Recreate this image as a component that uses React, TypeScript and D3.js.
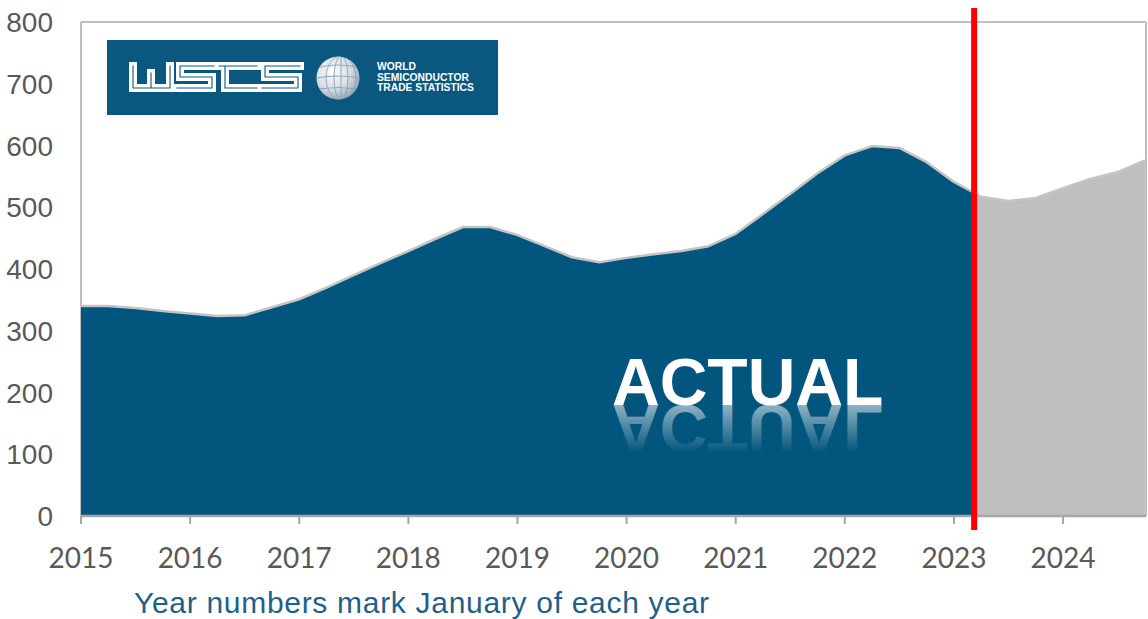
import * as d3 from "d3";

// quarterly WSTS billings (US$ bn, 12-month moving sum)
const quarters = [
  2015, 2015.25, 2015.5, 2015.75, 2016, 2016.25, 2016.5, 2016.75,
  2017, 2017.25, 2017.5, 2017.75, 2018, 2018.25, 2018.5, 2018.75,
  2019, 2019.25, 2019.5, 2019.75, 2020, 2020.25, 2020.5, 2020.75,
  2021, 2021.25, 2021.5, 2021.75, 2022, 2022.25, 2022.5, 2022.75,
  2023, 2023.25, 2023.5, 2023.75, 2024, 2024.25, 2024.5, 2024.75,
];
const billings = [
  340, 340, 337, 332, 328, 324, 325, 338,
  351, 370, 390, 410, 429, 449, 468, 468,
  455, 437, 419, 411, 418, 424, 429, 437,
  457, 489, 522, 555, 584, 599, 596, 573,
  541, 517, 510, 515, 531, 546, 557, 576,
];
const yearTicks = [2015, 2016, 2017, 2018, 2019, 2020, 2021, 2022, 2023, 2024];
const valueTicks = [0, 100, 200, 300, 400, 500, 600, 700, 800];
const actualThrough = 2023.185; // red marker, ~March 2023

const W = 1148;
const H = 619;
const left = 81;
const right = 1146;
const top = 22;
const bottom = 516;

const BLUE = "#02557d";
const GREY = "#bfbfbf";

function Logo() {
  const dark = "#0a587f";
  const letters = [
    // W
    "M133,66 V88 H170 V66 M151,73 V88",
    // S
    "M214,66 H180 V77 H212 V88 H177",
    // T (WSTS style)
    "M219,66 H257 M225,66 V88 H257",
    // S
    "M300,66 H265 V77 H298 V88 H262",
  ];
  return (
    <g>
      <rect x={107} y={40} width={391} height={75} fill={dark} />
      {letters.map((d, i) => (
        <g key={i} fill="none" strokeLinejoin="miter" strokeLinecap="square">
          <path d={d} stroke="#ffffff" strokeWidth={8} />
          <path d={d} stroke={dark} strokeWidth={1.1} />
        </g>
      ))}
      <defs>
        <radialGradient id="globe" cx="38%" cy="35%" r="70%">
          <stop offset="0%" stopColor="#ffffff" />
          <stop offset="60%" stopColor="#d5dce3" />
          <stop offset="100%" stopColor="#93a3b2" />
        </radialGradient>
        <clipPath id="globeClip">
          <circle cx={338} cy={78} r={21.5} />
        </clipPath>
      </defs>
      <circle cx={338} cy={78} r={21.5} fill="url(#globe)" />
      <g clipPath="url(#globeClip)" fill="none" stroke="#8aa0b4" strokeWidth={0.9}>
        <ellipse cx={341} cy={78} rx={7} ry={22} />
        <ellipse cx={341} cy={78} rx={15} ry={22} />
        <line x1={341} y1={55} x2={341} y2={101} />
        <path d="M316,68 Q338,62 360,68" />
        <path d="M316,78 Q338,74 360,78" />
        <path d="M316,89 Q338,86 360,89" />
      </g>
      <g fill="#ffffff" fontFamily="Liberation Sans, Arial, sans-serif" fontWeight="bold" fontSize={10.3}>
        <text x={377} y={70}>WORLD</text>
        <text x={377} y={80.5}>SEMICONDUCTOR</text>
        <text x={377} y={91}>TRADE STATISTICS</text>
      </g>
    </g>
  );
}

export default function App() {
  const x = d3.scaleLinear([2015, 2024.76], [left, right]);
  const y = d3.scaleLinear([0, 800], [bottom, top]);

  const area = d3
    .area<number>()
    .x((d, i) => x(quarters[i]))
    .y0(y(0))
    .y1((d) => y(d))
    .curve(d3.curveLinear);
  const line = d3
    .line<number>()
    .x((d, i) => x(quarters[i]))
    .y((d) => y(d));

  const cut = x(actualThrough);
  const base = 405;

  return (
    <svg
      width={W}
      height={H}
      style={{ position: "absolute", left: 0, top: 0, background: "#fff" }}
    >
      <defs>
        <clipPath id="actual">
          <rect x={left} y={0} width={cut - left} height={H} />
        </clipPath>
        <clipPath id="forecast">
          <rect x={cut} y={0} width={right - cut} height={H} />
        </clipPath>
        <linearGradient id="reflect" gradientUnits="userSpaceOnUse" x1={0} y1={base} x2={0} y2={base - 48}>
          <stop offset="0%" stopColor="#ffffff" stopOpacity={0.55} />
          <stop offset="100%" stopColor="#ffffff" stopOpacity={0} />
        </linearGradient>
      </defs>

      {/* frame */}
      <g stroke="#bfbfbf" strokeWidth={2} fill="none">
        <line x1={left} y1={top} x2={right} y2={top} />
        <line x1={left} y1={top} x2={left} y2={bottom} />
        <line x1={right} y1={top} x2={right} y2={bottom} />
      </g>

      <path d={area(billings) ?? ""} fill={BLUE} clipPath="url(#actual)" />
      <path d={area(billings) ?? ""} fill={GREY} clipPath="url(#forecast)" />
      <path d={line(billings) ?? ""} fill="none" stroke="#c4c4c4" strokeWidth={2.5} strokeLinejoin="round" />

      {/* ACTUAL label with reflection */}
      <g fontFamily="Liberation Sans, Arial, sans-serif" fontWeight="bold" fontSize={66}>
        <text x={612} y={base} fill="#ffffff">ACTUAL</text>
        <text
          x={612}
          y={base}
          fill="url(#reflect)"
          aria-hidden="true"
          transform={`translate(0 ${2 * base}) scale(1 -1)`}
        >
          ACTUAL
        </text>
      </g>

      {/* x axis */}
      <line x1={left} y1={bottom} x2={right} y2={bottom} stroke="#a6a6a6" strokeWidth={2.5} />
      <g stroke="#a6a6a6" strokeWidth={2}>
        {yearTicks.map((t) => (
          <line key={t} x1={x(t)} x2={x(t)} y1={bottom} y2={bottom + 8} />
        ))}
      </g>
      <g fill="#595959" fontFamily="Lato, sans-serif" fontSize={28} textAnchor="middle">
        {yearTicks.map((t) => (
          <text key={t} x={x(t)} y={568}>
            {t}
          </text>
        ))}
      </g>

      {/* y axis labels */}
      <g fill="#595959" fontFamily="Liberation Sans, Arial, sans-serif" fontSize={28} textAnchor="end">
        {valueTicks.map((v) => (
          <text key={v} x={53} y={y(v)} dy="0.36em">
            {v}
          </text>
        ))}
      </g>

      {/* actual / forecast marker */}
      <line x1={cut} x2={cut} y1={8} y2={530} stroke="#ff0000" strokeWidth={6} />

      <Logo />

      <text
        x={134}
        y={613}
        fill="#1f5f8a"
        fontFamily="Liberation Sans, Arial, sans-serif"
        fontSize={30}
        letterSpacing={0.7}
      >
        Year numbers mark January of each year
      </text>
    </svg>
  );
}
